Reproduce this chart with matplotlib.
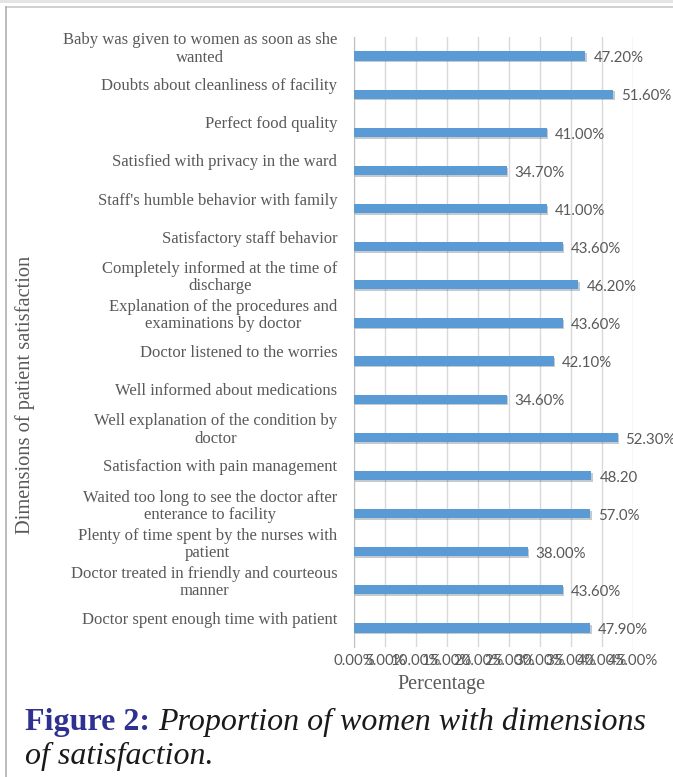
import matplotlib
matplotlib.use("Agg")
import matplotlib.pyplot as plt
import matplotlib.patheffects as pe
import matplotlib.transforms as mtransforms
from matplotlib.lines import Line2D
from matplotlib.patches import Rectangle

categories = [
    "Baby was given to women as soon as she\nwanted",
    "Doubts about cleanliness of facility",
    "Perfect food quality",
    "Satisfied with privacy in the ward",
    "Staff's humble behavior with family",
    "Satisfactory staff behavior",
    "Completely informed at the time of\ndischarge",
    "Explanation of the procedures and\nexaminations by doctor",
    "Doctor listened to the worries",
    "Well informed about medications",
    "Well explanation of the condition by\ndoctor",
    "Satisfaction with pain management",
    "Waited too long to see the doctor after\nenterance to facility",
    "Plenty of time spent by the nurses with\npatient",
    "Doctor treated in friendly and courteous\nmanner",
    "Doctor spent enough time with patient",
]
# bar lengths as drawn (percent)
bar_values = [37.3, 41.8, 31.1, 24.6, 31.1, 33.7, 36.2, 33.7, 32.2, 24.6,
              42.5, 38.3, 38.1, 28.0, 33.7, 38.1]
# data label texts as printed
data_labels = ["47.20%", "51.60%", "41.00%", "34.70%", "41.00%", "43.60%",
               "46.20%", "43.60%", "42.10%", "34.60%", "52.30%", "48.20",
               "57.0%", "38.00%", "43.60%", "47.90%"]
x_ticks = [0, 5, 10, 15, 20, 25, 30, 35, 40, 45]
x_tick_labels = ["0.00%", "5.00%", "10.00%", "15.00%", "20.00%", "25.00%",
                 "30.00%", "35.00%", "40.00%", "45.00%"]

W, H = 673, 777
fig = plt.figure(figsize=(W / 100, H / 100), dpi=100)
fig.patch.set_facecolor("white")

# page frame
fig.add_artist(Rectangle((0, 1 - 3 / H), 1, 3 / H, transform=fig.transFigure,
                         facecolor="#e4e4e4", edgecolor="none"))
fig.add_artist(Line2D([6 / W, 1], [1 - 7 / H, 1 - 7 / H], transform=fig.transFigure,
                      color="#c8c8c8", lw=1.2))
fig.add_artist(Line2D([6 / W, 6 / W], [0, 1 - 7 / H], transform=fig.transFigure,
                      color="#b0b0b0", lw=1.2))

left, right = 354, 633
top, bottom = 37, 647
ax = fig.add_axes([left / W, 1 - bottom / H, (right - left) / W, (bottom - top) / H])

gray = "#595959"
y = list(range(len(categories)))
bars = ax.barh(y, bar_values, height=0.24, color="#5b9bd5", zorder=3)
for b in bars:
    b.set_path_effects([pe.SimplePatchShadow(offset=(1.0, -1.2), alpha=0.25), pe.Normal()])

for yi, v, t in zip(y, bar_values, data_labels):
    ax.text(v + 1.3, yi + 0.06, t, va="center", ha="left", fontsize=10.8,
            family="Lato", color=gray, clip_on=False)

ax.set_xlim(0, 45)
ax.set_ylim(len(categories) - 0.5, -0.5)
ax.set_xticks(x_ticks)
ax.set_xticklabels(x_tick_labels, family="Lato", fontsize=10.8, color=gray)
ax.set_yticks(y)
ax.set_yticklabels(categories, family="Liberation Serif", fontsize=12, color=gray,
                   multialignment="center", linespacing=1.12)
ax.tick_params(axis="both", length=0)
ax.tick_params(axis="y", pad=12)
ax.tick_params(axis="x", pad=5)
shift = mtransforms.ScaledTranslation(0, 10 / 100, fig.dpi_scale_trans)
for lbl in ax.get_yticklabels():
    lbl.set_transform(lbl.get_transform() + shift)
ax.grid(axis="x", color="#d9d9d9", lw=1, zorder=0)
for s in ["top", "right", "bottom"]:
    ax.spines[s].set_visible(False)
ax.spines["left"].set_color("#bfbfbf")

fig.text(441 / W, 1 - 684 / H, "Percentage", family="Liberation Serif", fontsize=14.5,
         color=gray, ha="center", va="center")

fig.text(25 / W, 1 - 395 / H, "Dimensions of patient satisfaction", rotation=90,
         ha="center", va="center", family="Liberation Serif", fontsize=14.7, color=gray)

# caption
t1 = fig.text(25 / W, 1 - 730 / H, "Figure 2:", family="Liberation Serif",
              fontweight="bold", fontsize=23, color="#2e3192", ha="left", va="baseline")
fig.canvas.draw()
bb = t1.get_window_extent()
fig.text(bb.x1 / W + 8 / W, 1 - 730 / H, "Proportion of women with dimensions",
         family="Liberation Serif", style="italic", fontsize=23, color="#1a1a1a",
         ha="left", va="baseline")
fig.text(25 / W, 1 - 764 / H, "of satisfaction.", family="Liberation Serif",
         style="italic", fontsize=23, color="#1a1a1a", ha="left", va="baseline")

fig.savefig("out.png", dpi=100)
